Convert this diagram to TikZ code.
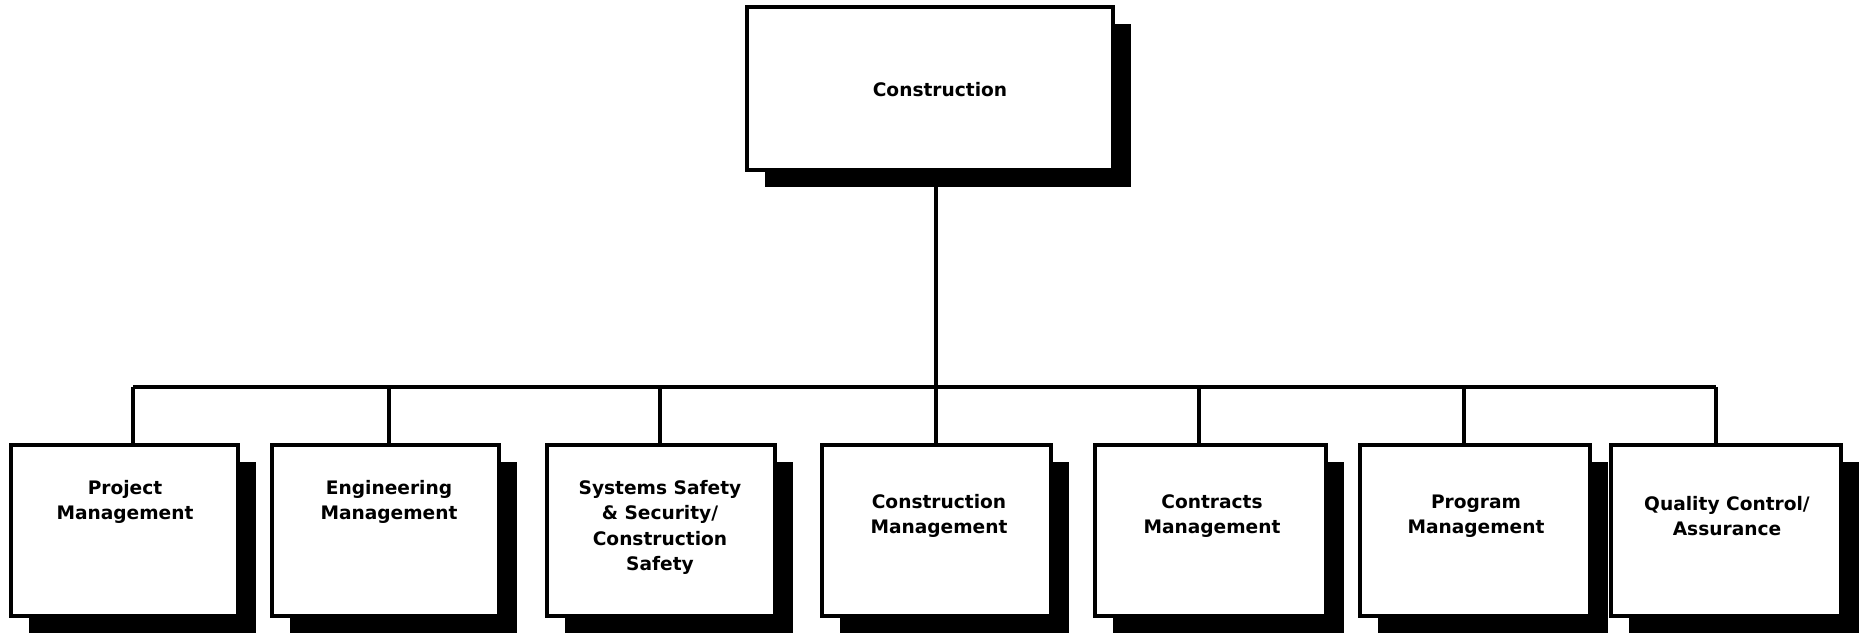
\documentclass[tikz,border=0pt]{standalone}
\usepackage{fontspec}
\setmainfont{DejaVu Sans}
\usetikzlibrary{shadows,calc}
\begin{document}
\begin{tikzpicture}[x=0.5pt,y=-0.5pt,
  orgbox/.style={draw=black, line width=1.7pt, fill=white, inner sep=0pt,
    minimum height=85.5pt,
    drop shadow={shadow xshift=9pt, shadow yshift=-8.5pt, fill=black, opacity=1}},
  lbl/.style={font=\bfseries\fontsize{9.3}{12.7}\selectfont, align=center, inner sep=0pt},
  wire/.style={draw=black, line width=1.6pt}]
\useasboundingbox (0,0) rectangle (1860,633);

% top box
\node[orgbox, minimum width=183pt, minimum height=81.5pt] (top) at (930,88.5) {};
\node[lbl] (ttop) at (940,90) {Construction};

% bottom boxes
\node[orgbox, minimum width=113.5pt] (b1) at (124.5,530.5) {};
\node[orgbox, minimum width=113.5pt] (b2) at (385.5,530.5) {};
\node[orgbox, minimum width=114pt]   (b3) at (661,530.5) {};
\node[orgbox, minimum width=114.5pt] (b4) at (936.5,530.5) {};
\node[orgbox, minimum width=115.5pt] (b5) at (1210.5,530.5) {};
\node[orgbox, minimum width=115pt]   (b6) at (1475,530.5) {};
\node[orgbox, minimum width=115pt]   (b7) at (1726,530.5) {};

\node[lbl] (t1) at (125,502) {Project\\Management};
\node[lbl] (t2) at (389,502) {Engineering\\Management};
\node[lbl] (t3) at (660,527.5) {Systems Safety\\\& Security/\\Construction\\Safety};
\node[lbl] (t4) at (939,516) {Construction\\Management};
\node[lbl] (t5) at (1212,516) {Contracts\\Management};
\node[lbl] (t6) at (1476,516) {Program\\Management};
\node[lbl] (t7) at (1727,516) {Quality Control/\\Assurance};

% bus junctions
\coordinate (j1) at (133,387);
\coordinate (j2) at (389,387);
\coordinate (j3) at (660,387);
\coordinate (j4) at (936,387);
\coordinate (j5) at (1199,387);
\coordinate (j6) at (1464,387);
\coordinate (j7) at (1716,387);

\draw[wire] (j1) -- (j7);
\draw[wire] (top.south -| j4) -- (j4 |- b4.north);
\draw[wire] (j1) -- (j1 |- b1.north);
\draw[wire] (j2) -- (j2 |- b2.north);
\draw[wire] (j3) -- (j3 |- b3.north);
\draw[wire] (j5) -- (j5 |- b5.north);
\draw[wire] (j6) -- (j6 |- b6.north);
\draw[wire] (j7) -- (j7 |- b7.north);
\end{tikzpicture}
\end{document}
